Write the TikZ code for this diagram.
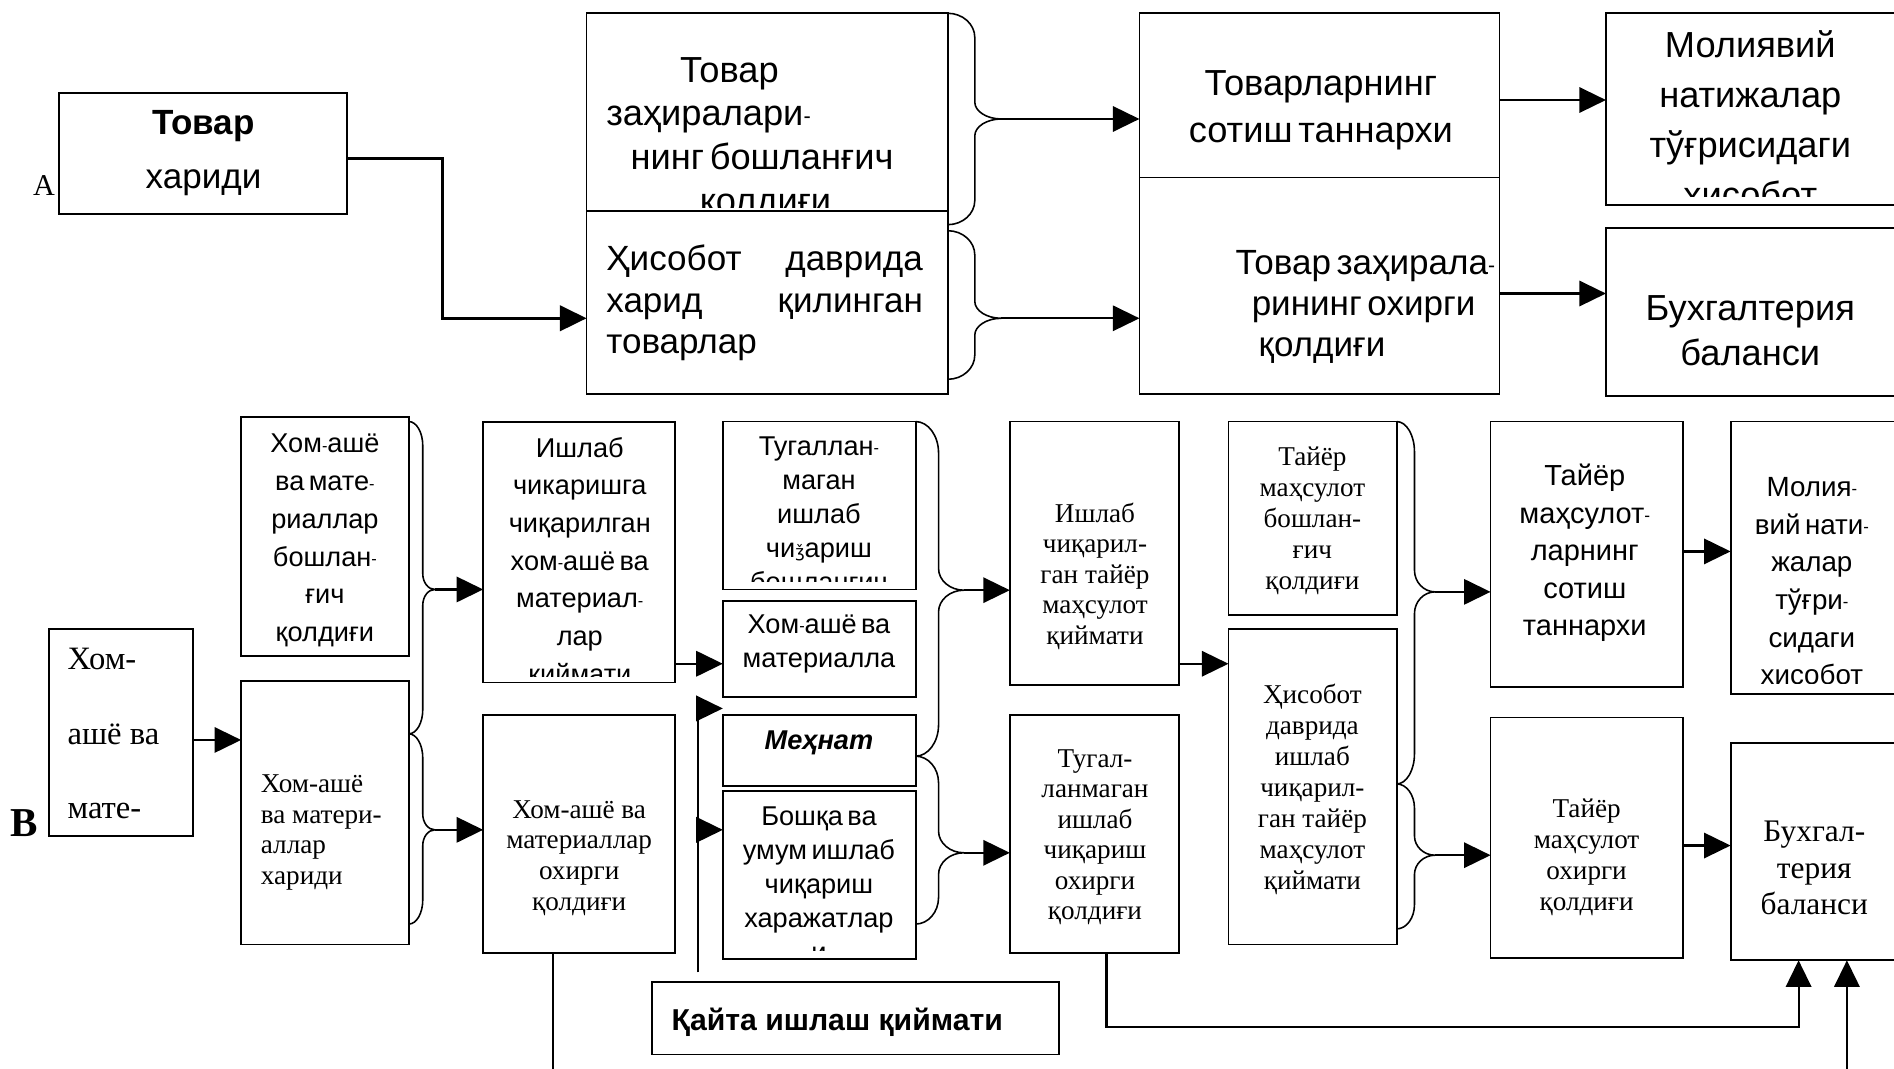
\documentclass[tikz,border=0pt]{standalone}
\usepackage{fontspec}
\usepackage{graphicx}
\setmainfont{Liberation Serif}
\setsansfont{Liberation Sans}
\newfontfamily\dejavu{DejaVu Sans}
\usetikzlibrary{arrows.meta,fit}

% small hyphen used in the sans-serif labels
\newcommand\sh{\raisebox{0.06em}{\scalebox{0.6}{-}}}
% narrow word spacing
\newcommand\tight{\spaceskip=0.16em plus 0.05em\relax}
% centred / left-aligned text blocks: width, size, baselineskip, lines
\newcommand\ct[4]{\parbox[t]{#1pt}{\fontsize{#2}{#3}\selectfont\centering #4}}
\newcommand\lt[4]{\parbox[t]{#1pt}{\fontsize{#2}{#3}\selectfont\raggedright #4}}
% curly brace: x0, ytop, ybot, ytip, spine x, tip x, tip name, end radius, tip radius
\newcommand\curlybrace[9]{%
  \draw[brc] (#1,#2) .. controls ({#1+0.55*(#5-#1)},#2) and (#5,{#2+0.45*#8}) .. (#5,{#2+#8})
    -- (#5,{#4-#9}) .. controls (#5,{#4-0.45*#9}) and ({#6-0.55*(#6-#5)},#4) .. (#6,#4)
    .. controls ({#6-0.55*(#6-#5)},#4) and (#5,{#4+0.45*#9}) .. (#5,{#4+#9})
    -- (#5,{#3-#8}) .. controls (#5,{#3-0.45*#8}) and ({#1+0.55*(#5-#1)},#3) .. (#1,#3);
  \coordinate (#7) at (#6,#4);}

\begin{document}
\begin{tikzpicture}[x=1pt, y=-1pt,
  bx/.style={draw, line width=1.5pt, inner sep=0pt, outer sep=0pt},
  tx/.style={inner sep=0pt, outer sep=0pt, anchor=base},
  txl/.style={inner sep=0pt, outer sep=0pt, anchor=base west},
  arr/.style={line width=1.8pt, -{Triangle[length=22pt,width=21pt]}},
  ln/.style={line width=1.8pt},
  brc/.style={line width=1.3pt}]

\fill[white] (0,0) rectangle (1568,885);
\useasboundingbox (0,0) rectangle (1568,885);

% ---------------- part A: goods ----------------
\node[tx, font=\rmfamily] (lblA) at (36.5,161.5) {\fontsize{25}{25}\selectfont A};
\node[bx, fit={(49,77) (287,177)}] (th) {};
\node[tx, font=\sffamily] (thtx) at (168.5,111) {\ct{200}{29}{45}{\textbf{Товар}\\хариди}};

\node[bx, fit={(485.6,11) (784.7,174.7)}] (L1) {};
\node[bx, fit={(485.6,174.7) (784.7,326)}] (L2) {};
\begin{scope}
  \clip (485.6,11) rectangle (784.7,172);
  \node[txl, font=\sffamily] (l1tx) at (502,68)
    {\lt{300}{30}{36.3}{\tight\hspace*{61pt}Товар\\заҳиралари\sh\\\hspace*{20pt}нинг бошланғич\\\hspace*{77.5pt}қолдиғи}};
\end{scope}
\node[txl, font=\sffamily] (l2tx) at (502,224)
  {\lt{262}{29}{34.5}{Ҳисобот\hfill даврида\\харид\hfill қилинган\\товарлар}};

\node[bx, fit={(943.3,11) (1241.4,147)}] (M1) {};
\node[bx, fit={(943.3,147) (1241.4,326)}] (M2) {};
\node[tx, font=\sffamily] (m1tx) at (1093.5,79) {\ct{300}{30}{39}{\tight Товарларнинг\\сотиш таннархи}};
\node[txl, font=\sffamily] (m2tx) at (1023,227)
  {\lt{250}{29}{34}{\tight Товар заҳирала\sh\\\hspace*{13.3pt}рининг охирги\\\hspace*{19pt}қолдиғи}};

\node[bx, fit={(1329.5,11) (1570,169.7)}] (R1) {};
\begin{scope}
  \clip (1329.5,11) rectangle (1570,163);
  \node[tx, font=\sffamily] (r1tx) at (1449,47.5) {\ct{240}{30}{41.4}{Молиявий\\натижалар\\тўғрисидаги\\хисобот}};
\end{scope}
\node[bx, fit={(1329.5,189) (1570,328)}] (R2) {};
\node[tx, font=\sffamily] (r2tx) at (1449,265) {\ct{240}{30}{37.5}{Бухгалтерия\\баланси}};

\curlybrace{784.7}{11}{186}{98.5}{807}{829}{tb1}{20}{14}
\curlybrace{784.7}{191}{314}{263.5}{807}{829}{tb2}{20}{14}

\draw[arr, line width=2.2pt] ([yshift=-4pt]th.east) -- ++(79.5,0) |- ([yshift=-13.15pt]L2.west);
\draw[arr] (tb1) -- (tb1 -| M1.west);
\draw[arr] (tb2) -- (tb2 -| M2.west);
\coordinate (m1o) at ([yshift=-3.8pt]M1.east);
\draw[arr] (m1o) -- (m1o -| R1.west);
\coordinate (m2o) at ([yshift=-6.5pt]M2.east);
\draw[arr] (m2o) -- (m2o -| R2.west);

% ---------------- part B: production ----------------
\node[tx, font=\rmfamily] (lblB) at (20,692.5) {\fontsize{34}{34}\selectfont\bfseries B};
\node[bx, fit={(40.6,521) (159.6,692)}] (B) {};
\node[txl, font=\rmfamily] (btx) at (56,554.5) {\lt{100}{27}{61.5}{Хом-\\ашё ва\\мате-}};

\node[bx, fit={(199.6,345) (338.5,543)}] (C2a) {};
\node[tx, font=\sffamily] (c2atx) at (269,375)
  {\ct{160}{22.5}{31.2}{\tight Хом\sh ашё\\ва мате\sh\\риаллар\\бошлан\sh\\ғич\\қолдиғи}};
\node[bx, fit={(199.6,563.6) (338.5,782)}] (C2b) {};
\node[txl, font=\rmfamily] (c2btx) at (216,656.5) {\lt{140}{22.5}{25.2}{Хом-ашё\\ва матери-\\аллар\\хариди}};

\node[bx, fit={(400,349.5) (559,565)}] (C3a) {};
\begin{scope}
  \clip (400,349.5) rectangle (559,560);
  \node[tx, font=\sffamily] (c3atx) at (480,378.5)
    {\ct{180}{22.5}{31.2}{\tight Ишлаб\\чикаришга\\чиқарилган\\хом\sh ашё ва\\материал\sh\\лар\\қиймати}};
\end{scope}
\node[bx, fit={(400,592) (559,789)}] (C3b) {};
\node[tx, font=\rmfamily] (c3btx) at (479.5,677.5) {\ct{180}{22.5}{25.3}{Хом-ашё ва\\материаллар\\охирги\\қолдиғи}};

\node[bx, fit={(598.4,349) (758,488)}] (T1) {};
\begin{scope}
  \clip (598.4,349) rectangle (758,481);
  \node[tx, font=\sffamily] (t1tx) at (678,377)
    {\ct{180}{22.5}{28.2}{\tight Тугаллан\sh\\маган\\ишлаб\\чи{\dejavu\scalebox{0.6}{ǯ}}ариш\\бошланғич}};
\end{scope}
\node[bx, fit={(598.4,497.6) (758,576.7)}] (T2) {};
\node[tx, font=\sffamily] (t2tx) at (678,524.5) {\ct{180}{22.5}{28.2}{\tight Хом\sh ашё ва\\материалла}};
\node[bx, fit={(598.4,592) (758,650.7)}] (T3) {};
\node[tx, font=\sffamily] (t3tx) at (678,620.5) {\fontsize{22.5}{22.5}\selectfont\bfseries\itshape Меҳнат};
\node[bx, fit={(598.4,655) (758,793.6)}] (T4) {};
\begin{scope}
  \clip (598.4,655) rectangle (758,787);
  \node[tx, font=\sffamily] (t4tx) at (678,683)
    {\ct{180}{22.5}{28.3}{\tight Бошқа ва\\умум ишлаб\\чиқариш\\харажатлар\\и}};
\end{scope}

\node[bx, fit={(540,813) (877,873)}] (Q) {};
\node[txl, font=\sffamily] (qtx) at (556,853) {\fontsize{25}{25}\selectfont\bfseries Қайта ишлаш қиймати};

\node[bx, fit={(836,349) (976,567)}] (P1) {};
\node[tx, font=\rmfamily] (p1tx) at (906.5,432.5) {\ct{160}{22.5}{25.2}{Ишлаб\\чиқарил-\\ган тайёр\\маҳсулот\\қиймати}};
\node[bx, fit={(836,592) (976,789)}] (P2) {};
\node[tx, font=\rmfamily] (p2tx) at (906.5,635) {\ct{160}{22.5}{25.3}{Тугал-\\ланмаган\\ишлаб\\чиқариш\\охирги\\қолдиғи}};

\node[bx, fit={(1017,349) (1156.3,509)}] (F1) {};
\node[tx, font=\rmfamily] (f1tx) at (1086.5,385.5) {\ct{160}{22.5}{25.7}{Тайёр\\маҳсулот\\бошлан-\\ғич\\қолдиғи}};
\node[bx, fit={(1017,521) (1156.3,782)}] (F2) {};
\node[tx, font=\rmfamily] (f2tx) at (1086.5,582.5) {\ct{160}{22.5}{25.6}{Ҳисобот\\даврида\\ишлаб\\чиқарил-\\ган тайёр\\маҳсулот\\қиймати}};

\node[bx, fit={(1234,349) (1393.6,569)}] (S1) {};
\node[tx, font=\sffamily] (s1tx) at (1312,402) {\ct{180}{24}{31.1}{\tight Тайёр\\маҳсулот\sh\\ларнинг\\сотиш\\таннархи}};
\node[bx, fit={(1234,594) (1393.6,793)}] (S2) {};
\node[tx, font=\rmfamily] (s2tx) at (1313.5,677) {\ct{180}{22.5}{25.7}{Тайёр\\маҳсулот\\охирги\\қолдиғи}};

\node[bx, fit={(1432.7,349) (1570,574.5)}] (M) {};
\begin{scope}
  \clip (1432.7,349) rectangle (1570,565.5);
  \node[tx, font=\sffamily] (mtx) at (1500,411)
    {\ct{160}{23}{31.2}{\tight Молия\sh\\вий нати\sh\\жалар\\тўғри\sh\\сидаги\\хисобот}};
\end{scope}
\node[bx, fit={(1432.7,615) (1570,795)}] (BB) {};
\node[tx, font=\rmfamily] (bbtx) at (1502,697) {\ct{160}{26}{30}{Бухгал-\\терия\\баланси}};

% braces
\curlybrace{338.5}{349}{607.5}{488}{350}{360}{c2b1}{20}{13}
\curlybrace{338.5}{607.5}{765}{687}{350}{360}{c2b2}{20}{13}
\curlybrace{758}{349}{626}{488.6}{777}{798}{c4b1}{26}{18}
\curlybrace{758}{626}{765}{706}{777}{798}{c4b2}{22}{18}
\curlybrace{1156.3}{349}{649}{490}{1171}{1188}{c6b1}{25}{18}
\curlybrace{1156.3}{649}{769}{708}{1171}{1188}{c6b2}{20}{16}

% connectors
\coordinate (bo) at ([yshift=-6.1pt]B.east);
\draw[arr] (bo) -- (bo -| C2b.west);
\draw[arr] (c2b1) -- (c2b1 -| C3a.west);
\draw[arr] (c2b2) -- (c2b2 -| C3b.west);
\coordinate (t2in) at ([yshift=-12.35pt]T2.west);
\draw[arr] (t2in -| C3a.east) -- (t2in);
\coordinate (qtop) at ([xshift=37.7pt,yshift=8pt]Q.north west);
\coordinate (qa1) at ([yshift=5.5pt]T3.north west);
\coordinate (qa2) at ([yshift=37.3pt]T4.west);
\draw[arr] (qtop) |- (qa1);
\draw[arr] (qa2 -| qtop) -- (qa2);
\draw[arr] (c4b1) -- (c4b1 -| P1.west);
\draw[arr] (c4b2) -- (c4b2 -| P2.west);
\coordinate (f2in) at ([yshift=102pt]F2.west);
\draw[arr] (f2in -| P1.east) -- (f2in);
\draw[arr] (c6b1) -- (c6b1 -| S1.west);
\draw[arr] (c6b2) -- (c6b2 -| S2.west);
\coordinate (s1o) at ([yshift=2.5pt]S1.east);
\draw[arr] (s1o) -- (s1o -| M.west);
\coordinate (s2o) at ([yshift=-6.5pt]S2.east);
\draw[arr] (s2o) -- (s2o -| BB.west);
\coordinate (bbin1) at ([xshift=56.3pt]BB.south west);
\coordinate (bbin2) at ([xshift=96.3pt]BB.south west);
\draw[arr] ([xshift=10pt]P2.south) -- ++(0,61) -| (bbin1);
\coordinate (bfoot) at (1529,892);
\draw[arr] (bfoot) -- (bbin2);
\coordinate (c3foot) at (457.5,892);
\draw[ln] (C3b.south -| c3foot) -- (c3foot);
\end{tikzpicture}
\end{document}
